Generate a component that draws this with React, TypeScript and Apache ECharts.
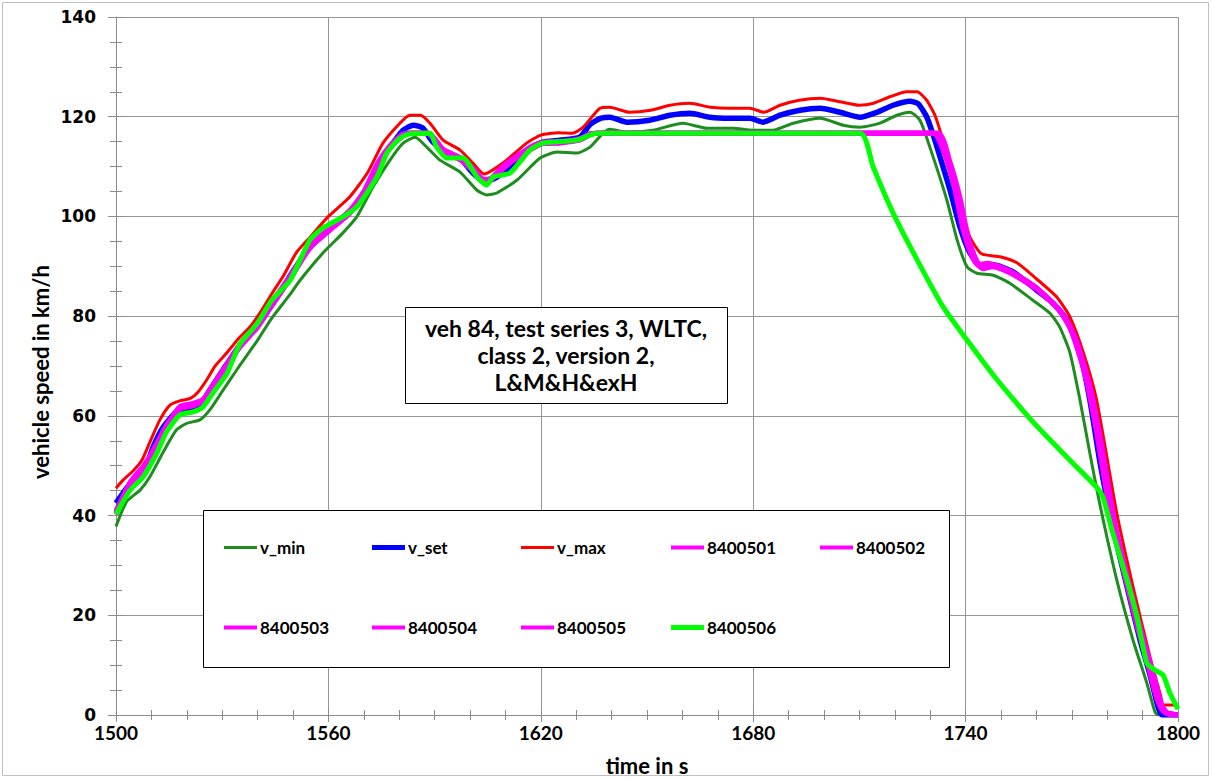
import React, { useEffect, useRef } from "react";
import * as echarts from "echarts";

type P = [number, number];

const seriesNames = ["v_min", "v_set", "v_max", "8400501", "8400502", "8400503", "8400504", "8400505", "8400506"];
const xLabelTitle = "time in s";
const yLabelTitle = "vehicle speed in km/h";
const noteText = "veh 84, test series 3, WLTC,\nclass 2, version 2,\nL&M&H&exH";

const vMin: P[] = [
  [1500, 37.8], [1503, 42.8], [1506.8, 45.1], [1509.6, 47.8], [1513.4, 52.8], [1517.1, 57.2], [1520, 58.5],
  [1523.7, 59.2], [1526.5, 61.2], [1530.3, 65.2], [1534.1, 69.2], [1540, 75.2], [1544, 79.6], [1549, 84.2],
  [1552, 87.2], [1558.5, 92.7], [1564.1, 96.7], [1568, 99.9], [1572.6, 105.9], [1577.4, 111.3], [1581.1, 114.7],
  [1584.5, 115.9], [1587.8, 113.9], [1591.5, 111.3], [1597.2, 108.9], [1601.9, 105.3], [1604.7, 104.3],
  [1607.6, 104.7], [1613.3, 107.3], [1619.8, 111.7], [1624.6, 112.9], [1630.2, 112.7], [1633.9, 113.9],
  [1637.6, 116.7], [1639.5, 117.5], [1644.3, 116.9], [1651.7, 117.3], [1660.2, 118.7], [1666.9, 117.7],
  [1674.3, 117.7], [1680, 117.3], [1685.6, 117.3], [1691.3, 118.7], [1698.9, 119.7], [1705.4, 118.3],
  [1710.2, 117.9], [1715.8, 118.7], [1720.6, 120.3], [1724.3, 120.9], [1727.1, 119.3], [1729.9, 113.9],
  [1734.7, 103.3], [1737.6, 95.3], [1740.4, 89.9], [1743.2, 88.6], [1747.8, 88.2], [1752.5, 86.6], [1759, 83.2],
  [1763.8, 80.6], [1766.6, 77.8], [1769.5, 72.6], [1772.3, 63.2], [1775.1, 52.5], [1778, 42], [1782.7, 27.1],
  [1787.3, 15], [1791.2, 6.4], [1793.5, 0.6], [1794.5, 0], [1800, 0],
];

const vSet: P[] = [
  [1500, 42.5], [1503, 45.5], [1506.2, 48.5], [1508.6, 50.1], [1510.5, 53.8], [1513.4, 57.8], [1517.1, 60.8],
  [1520.9, 61.4], [1523.7, 62.2], [1526.5, 65.2], [1530.2, 69.2], [1535, 74.2], [1540, 78.2], [1544, 82.2],
  [1547, 85.5], [1550, 89], [1554.8, 93.8], [1560.5, 97.5], [1566, 100.9], [1569.8, 104], [1573.7, 109.9],
  [1577.4, 113.9], [1581.1, 117.3], [1584, 118.3], [1586.7, 117.7], [1589.5, 114.9], [1593.5, 112.9],
  [1597.2, 111.7], [1600.8, 108.7], [1604.2, 106.9], [1607.6, 107.9], [1612.1, 110.3], [1616.9, 113.7],
  [1620.6, 114.9], [1625.4, 115.3], [1631, 115.9], [1634, 118.5], [1637, 119.7], [1639.5, 119.9],
  [1644.3, 118.9], [1650.8, 119.3], [1656.5, 120.3], [1662.1, 120.7], [1667.8, 119.9], [1673.4, 119.7],
  [1679.1, 119.7], [1682.8, 118.9], [1687.6, 120.3], [1693.2, 121.3], [1698.9, 121.7], [1704.5, 120.9],
  [1710.2, 119.9], [1715, 120.9], [1719.5, 122.3], [1724.3, 123.1], [1726.6, 122.6], [1729, 120], [1731, 116],
  [1732.8, 111.9], [1735.6, 105.3], [1738.4, 97.9], [1741.2, 92.7], [1744.1, 90.3], [1747.7, 90.3],
  [1753.4, 88.9], [1760.1, 85.2], [1764.7, 82.6], [1768.6, 79.2], [1772.3, 72.6], [1775.1, 63.2], [1778, 50.5],
  [1781.6, 37.7], [1785.6, 25.7], [1789.3, 15], [1792.1, 8], [1794.4, 1.5], [1795.5, 0], [1800, 0],
];

const vMax: P[] = [
  [1500, 45.5], [1502, 47.1], [1505, 49.1], [1507.3, 51.1], [1509.6, 54.8], [1512.4, 59.2], [1515.3, 62.2],
  [1518, 63], [1521, 63.5], [1523.2, 64.8], [1525.6, 67.2], [1528, 70], [1531, 72.4], [1535, 75.8], [1538, 78],
  [1541, 81], [1544, 84.5], [1547.2, 88], [1551, 92.8], [1555, 96], [1560, 100], [1566, 103.9], [1571, 108.7],
  [1575.4, 114.7], [1580.2, 118.7], [1583, 120.3], [1586, 120.3], [1588.7, 118.7], [1592.4, 115.3],
  [1597.2, 113.3], [1600.8, 110.7], [1604, 108.5], [1609.3, 110.7], [1616, 114.7], [1620, 116.3], [1625, 116.8],
  [1629, 116.7], [1632, 117.9], [1636.7, 121.7], [1639.5, 121.9], [1645, 120.9], [1651, 121.3], [1656.5, 122.3],
  [1662, 122.7], [1668, 121.9], [1673.4, 121.7], [1679, 121.7], [1683, 120.9], [1687.6, 122.3], [1693, 123.3],
  [1699, 123.7], [1704.5, 123], [1710, 122.3], [1714, 122.7], [1718.6, 124], [1723.4, 125], [1726.3, 125],
  [1729, 123.3], [1731.5, 120], [1734.5, 113], [1738.4, 102.7], [1741.2, 95.9], [1744.5, 92.5], [1749.7, 91.9],
  [1754.5, 90.7], [1760, 87.5], [1765.8, 83.8], [1769.5, 79.8], [1773.3, 72.6], [1777, 63.2], [1782.7, 40.5],
  [1787.3, 25.7], [1792.1, 11.6], [1794.9, 4.4], [1796, 2], [1800, 2],
];

const r8400501: P[] = [
  [1500, 40.5], [1504, 46.5], [1507.7, 49.7], [1511, 53.5], [1514.5, 58], [1518.1, 61.8], [1521.8, 62.4],
  [1524.6, 63.2], [1527.5, 66], [1531.4, 70], [1535, 74], [1540, 78], [1544, 82.4], [1549, 87.5], [1554.8, 94],
  [1560.5, 97.5], [1566, 100.8], [1570, 104.5], [1574, 110.5], [1577.5, 114], [1581, 116.3], [1583, 116.7],
  [1588, 116.7], [1590.5, 115], [1592.4, 113.3], [1598, 111.3], [1601, 109.3], [1603.6, 107.3], [1606, 107.5],
  [1609, 109.5], [1612, 111.3], [1617, 113.5], [1620.6, 114.7], [1625, 114.8], [1631, 115.4], [1634, 116.5],
  [1636, 116.7], [1731.4, 116.7], [1734.7, 111.9], [1737.6, 104.7], [1739.9, 96.7], [1742.2, 91.9],
  [1744.1, 89.9], [1746.9, 90.3], [1752.5, 88.9], [1760, 85.6], [1766.6, 81.2], [1770.3, 76.6], [1774.2, 67.8],
  [1777.4, 56.6], [1781.6, 39], [1785.6, 27], [1789.3, 16.5], [1792.1, 9.5], [1794.5, 3], [1796.5, 0.5], [1800, 0],
];

const r8400502: P[] = [
  [1500, 41], [1504, 46], [1507.7, 49.2], [1511, 53.8], [1514.5, 58.4], [1518.1, 61.4], [1521.8, 62],
  [1524.6, 63], [1527.5, 66.3], [1531.4, 70.4], [1535, 74.3], [1540, 78.4], [1544, 82.8], [1549, 87.8],
  [1554.8, 94.3], [1560.5, 97.8], [1566, 101.2], [1570, 105], [1574, 110.8], [1577.5, 114.3], [1581, 116.5],
  [1583, 116.7], [1588.5, 116.7], [1591, 114.6], [1593, 112.9], [1598, 111], [1601, 109], [1603.8, 107],
  [1606.2, 107.8], [1609.5, 110.2], [1612.5, 111.7], [1617, 113.9], [1620.6, 114.9], [1625, 115],
  [1631, 115.6], [1634, 116.6], [1636, 116.7], [1731.8, 116.7], [1735.1, 111.5], [1738, 104.2],
  [1740.3, 96.3], [1742.6, 91.6], [1744.5, 89.7], [1747.3, 90.1], [1752.9, 88.6], [1760.4, 85.3],
  [1767, 80.8], [1770.7, 76], [1774.6, 67], [1777.8, 55.8], [1782, 38.3], [1786, 26.3], [1789.7, 16],
  [1792.5, 9], [1794.9, 2.6], [1796.8, 0.3], [1800, 0],
];

const r8400503: P[] = [
  [1500, 40.2], [1504, 46.2], [1507.7, 49.5], [1511, 53.2], [1514.5, 57.7], [1518.1, 61.6], [1521.8, 62.2],
  [1524.6, 63.1], [1527.5, 65.8], [1531.4, 69.8], [1535, 73.8], [1540, 77.8], [1544, 82.1], [1549, 87.2],
  [1554.8, 93.7], [1560.5, 97.3], [1566, 100.6], [1570, 104.2], [1574, 110.2], [1577.5, 113.8], [1581, 116.1],
  [1583, 116.7], [1587.8, 116.7], [1590.3, 115.2], [1592.2, 113.5], [1598, 111.5], [1601, 109.6],
  [1603.4, 107.6], [1605.8, 107.3], [1608.8, 109.2], [1611.8, 111], [1617, 113.3], [1620.6, 114.6],
  [1625, 114.7], [1631, 115.3], [1634, 116.4], [1636, 116.7], [1731, 116.7], [1734.3, 112.3], [1737.2, 105.2],
  [1739.5, 97.1], [1741.8, 92.2], [1743.7, 90.1], [1746.5, 90.5], [1752.1, 89.1], [1759.6, 85.9],
  [1766.2, 81.5], [1769.9, 77.1], [1773.8, 68.4], [1777, 57.3], [1781.2, 39.7], [1785.2, 27.6],
  [1788.9, 17], [1791.7, 10], [1794.1, 3.4], [1796.2, 0.6], [1800, 0],
];

const r8400504: P[] = [
  [1500, 40.8], [1504, 46.7], [1507.7, 49.9], [1511, 53.6], [1514.5, 58.2], [1518.1, 61.9], [1521.8, 62.5],
  [1524.6, 63.3], [1527.5, 66.1], [1531.4, 70.1], [1535, 74.1], [1540, 78.1], [1544, 82.5], [1549, 87.6],
  [1554.8, 94.1], [1560.5, 97.6], [1566, 100.9], [1570, 104.6], [1574, 110.6], [1577.5, 114.1], [1581, 116.4],
  [1583, 116.7], [1588.2, 116.7], [1590.7, 114.8], [1592.6, 113.1], [1598, 111.2], [1601, 109.2],
  [1603.7, 107.1], [1606.1, 107.6], [1609.2, 109.8], [1612.2, 111.5], [1617, 113.6], [1620.6, 114.8],
  [1625, 114.9], [1631, 115.5], [1634, 116.5], [1636, 116.7], [1732.2, 116.7], [1735.5, 111.1],
  [1738.4, 103.8], [1740.7, 95.9], [1743, 91.3], [1744.9, 89.5], [1747.7, 89.9], [1753.3, 88.4],
  [1760.8, 85], [1767.4, 80.4], [1771.1, 75.5], [1775, 66.3], [1778.2, 55], [1782.4, 37.6], [1786.4, 25.7],
  [1790.1, 15.5], [1792.9, 8.6], [1795.3, 2.2], [1797.2, 0.2], [1800, 0],
];

const r8400505: P[] = [
  [1500, 40.6], [1504, 46.4], [1507.7, 49.6], [1511, 53.4], [1514.5, 57.9], [1518.1, 61.7], [1521.8, 62.3],
  [1524.6, 63.2], [1527.5, 66], [1531.4, 70], [1535, 74], [1540, 78], [1544, 82.3], [1549, 87.4],
  [1554.8, 93.9], [1560.5, 97.4], [1566, 100.7], [1570, 104.4], [1574, 110.4], [1577.5, 113.9], [1581, 116.2],
  [1583, 116.7], [1588, 116.7], [1590.5, 115.1], [1592.4, 113.4], [1598, 111.4], [1601, 109.4],
  [1603.6, 107.4], [1606, 107.6], [1609, 109.6], [1612, 111.4], [1617, 113.5], [1620.6, 114.7], [1625, 114.8],
  [1631, 115.4], [1634, 116.5], [1636, 116.7], [1730.8, 116.7], [1734, 112.6], [1736.9, 105.6], [1739.2, 97.6],
  [1741.5, 92.5], [1743.4, 90.3], [1746.2, 90.6], [1751.8, 89.3], [1759.3, 86.1], [1765.9, 81.7],
  [1769.6, 77.5], [1773.5, 68.9], [1776.7, 57.9], [1780.9, 40.2], [1784.9, 28.1], [1788.6, 17.5],
  [1791.4, 10.4], [1793.8, 3.8], [1795.9, 0.7], [1800, 0],
];

const r8400506: P[] = [
  [1500, 40.3], [1504, 45.1], [1507.7, 47.8], [1511.5, 52.5], [1514.3, 56.8], [1518.1, 60.2], [1521.8, 60.8],
  [1524.6, 61.8], [1527.4, 64.6], [1531.4, 68.6], [1535, 74.4], [1540, 78.6], [1544, 83.2], [1549.2, 87.2],
  [1554.8, 95.3], [1558.5, 97.7], [1564.1, 99.9], [1568, 101.9], [1573.7, 107.9], [1576.5, 112.7],
  [1580.2, 115.7], [1583, 116.6], [1588.7, 116.7], [1590.5, 114], [1593.5, 111.7], [1598, 111.7], [1602, 107.9],
  [1604.8, 106.3], [1606.5, 107.9], [1611.3, 108.7], [1616.9, 113.3], [1620.6, 114.7], [1630.2, 115.3],
  [1635.8, 116.7], [1710.2, 116.7], [1713.9, 109.9], [1719.5, 100.7], [1726.3, 91.3], [1733.7, 81.8],
  [1740.4, 75.2], [1747.8, 68.2], [1753.4, 63.4], [1758, 59.6], [1763, 55.8], [1770.3, 50.5], [1777, 45.7],
  [1778.8, 43.7], [1781.6, 36.5], [1785.6, 27.1], [1788.4, 19.7], [1791.2, 10.4], [1793.5, 9], [1795.8, 8],
  [1797.7, 4.4], [1799.7, 1.6], [1800, 1.2],
];

const seriesData: P[][] = [vMin, vSet, vMax, r8400501, r8400502, r8400503, r8400504, r8400505, r8400506];
const seriesColors = ["#1e8c1e", "#0000ff", "#ff0000", "#ff00ff", "#ff00ff", "#ff00ff", "#ff00ff", "#ff00ff", "#00ff00"];
const seriesWidths = [3, 5.5, 3, 5, 5, 5, 5, 5, 5];
const legendIconHeights = [3, 5, 3, 4, 4, 4, 4, 4, 5];
const legendPos: [number, number][] = [
  [224, 549], [372, 549], [521, 549], [671, 549], [820, 549],
  [224, 629], [372, 629], [521, 629], [671, 629],
];

const AXIS_GRAY = "#8c8c8c";
const GRID_GRAY = "#969696";

export default function App() {
  const ref = useRef<HTMLDivElement>(null);
  useEffect(() => {
    if (!ref.current) return;
    const chart = echarts.init(ref.current, undefined, { renderer: "svg" });
    const xBase = {
      type: "value" as const,
      min: 1500,
      max: 1800,
      interval: 60,
      position: "bottom" as const,
      gridIndex: 0,
    };
    const yBase = {
      type: "value" as const,
      min: 0,
      max: 140,
      interval: 20,
      position: "left" as const,
      gridIndex: 0,
    };
    const option: any = {
      animation: false,
      backgroundColor: "#ffffff",
      grid: { left: 116, right: 34, top: 17, bottom: 64, containLabel: false },
      xAxis: [
        {
          ...xBase,
          axisLine: { show: true, onZero: false, lineStyle: { color: AXIS_GRAY, width: 1 } },
          axisTick: { show: true, length: 7, lineStyle: { color: AXIS_GRAY } },
          minorTick: { show: true, splitNumber: 6, length: 5, lineStyle: { color: AXIS_GRAY } },
          splitLine: { show: true, lineStyle: { color: GRID_GRAY, width: 1 } },
          axisLabel: {
            fontFamily: "Lato",
            fontWeight: "bold",
            fontSize: 19,
            color: "#000",
            margin: 8,
            formatter: (v: number) => String(v),
          },
        },
        {
          ...xBase,
          axisLine: { show: false, onZero: false },
          axisTick: { show: true, inside: true, length: 7, lineStyle: { color: AXIS_GRAY } },
          minorTick: { show: true, splitNumber: 6, length: 5, lineStyle: { color: AXIS_GRAY } },
          splitLine: { show: false },
          axisLabel: { show: false },
        },
      ],
      yAxis: [
        {
          ...yBase,
          axisLine: { show: true, onZero: false, lineStyle: { color: AXIS_GRAY, width: 1 } },
          axisTick: { show: true, length: 8, lineStyle: { color: AXIS_GRAY } },
          minorTick: { show: true, splitNumber: 4, length: 6, lineStyle: { color: AXIS_GRAY } },
          splitLine: { show: true, lineStyle: { color: GRID_GRAY, width: 1 } },
          axisLabel: {
            fontFamily: "DejaVu Sans",
            fontWeight: "bold",
            fontSize: 17,
            color: "#000",
            margin: 20,
            formatter: (v: number) => String(v),
          },
        },
        {
          ...yBase,
          axisLine: { show: false, onZero: false },
          axisTick: { show: true, inside: true, length: 8, lineStyle: { color: AXIS_GRAY } },
          minorTick: { show: true, splitNumber: 4, length: 6, lineStyle: { color: AXIS_GRAY } },
          splitLine: { show: false },
          axisLabel: { show: false },
        },
      ],
      legend: seriesNames.map((n, i) => ({
        data: [{ name: n, icon: "rect", itemStyle: { color: seriesColors[i] } }],
        left: legendPos[i][0],
        top: legendPos[i][1] - 10,
        padding: 0,
        itemWidth: 33,
        itemHeight: legendIconHeights[i],
        itemGap: 0,
        selectedMode: false,
        textStyle: { fontFamily: "Lato", fontWeight: "bold", fontSize: 17, color: "#000", padding: [0, 0, 0, -2] },
        z: 6,
      })),
      graphic: [
        {
          type: "rect",
          silent: true,
          z: -10,
          shape: { x: 2.5, y: 2.5, width: 1206, height: 773 },
          style: { fill: "none", stroke: "#c0c0c0", lineWidth: 1 },
        },
        {
          type: "rect",
          silent: true,
          z: 3,
          shape: { x: 405.5, y: 307.5, width: 322, height: 96 },
          style: { fill: "#ffffff", stroke: "#000000", lineWidth: 1 },
        },
        {
          type: "text",
          silent: true,
          z: 5,
          x: 566,
          y: 355,
          style: {
            text: noteText,
            font: "bold 23px Lato",
            fill: "#000",
            align: "center",
            verticalAlign: "middle",
            lineHeight: 27,
          },
        },
        {
          type: "rect",
          silent: true,
          z: 3,
          shape: { x: 203.5, y: 510.5, width: 746, height: 157 },
          style: { fill: "#ffffff", stroke: "#000000", lineWidth: 1 },
        },
        {
          type: "text",
          silent: true,
          z: 5,
          x: 40,
          y: 372,
          rotation: Math.PI / 2,
          style: {
            text: yLabelTitle,
            font: "bold 22px Lato",
            fill: "#000",
            align: "center",
            verticalAlign: "middle",
          },
        },
        {
          type: "text",
          silent: true,
          z: 5,
          x: 647,
          y: 765,
          style: {
            text: xLabelTitle,
            font: "bold 22px Lato",
            fill: "#000",
            align: "center",
            verticalAlign: "middle",
          },
        },
      ],
      series: seriesNames.map((n, i) => ({
        name: n,
        type: "line",
        xAxisIndex: 0,
        yAxisIndex: 0,
        data: seriesData[i],
        symbol: "none",
        smooth: 0.2,
        clip: true,
        lineStyle: { color: seriesColors[i], width: seriesWidths[i] },
        itemStyle: { color: seriesColors[i] },
        z: 2,
      })),
    };
    chart.setOption(option);
    return () => chart.dispose();
  }, []);
  return (
    <div
      ref={ref}
      style={{ position: "fixed", left: 0, top: 0, width: 1212, height: 779, background: "#fff" }}
    />
  );
}
